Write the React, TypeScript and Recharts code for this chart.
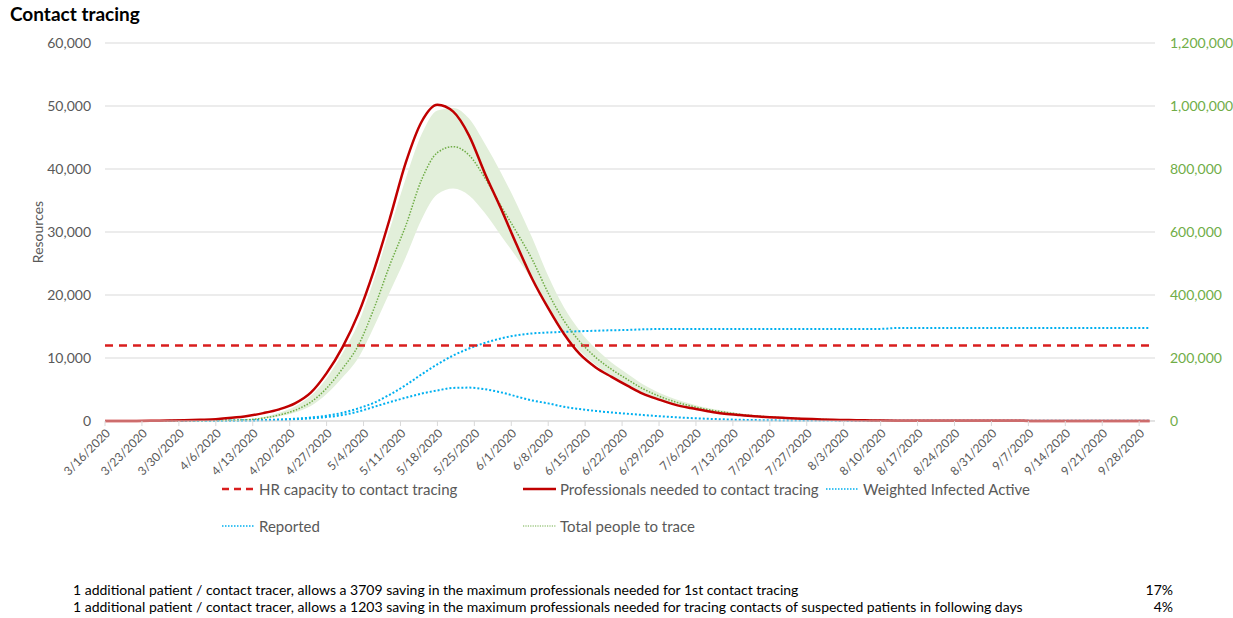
import React from 'react';
import { ComposedChart, Line, Area, XAxis, YAxis, CartesianGrid, ReferenceLine } from 'recharts';

// day offsets from 3/16/2020
const days = [
  0, 3, 6, 9, 12, 15, 18, 21, 24, 27, 30, 33, 36, 39, 42, 45, 48, 51, 54, 57,
  60, 63, 66, 69, 72, 75, 78, 81, 84, 87, 90, 93, 96, 99, 102, 105, 108, 111, 114, 117,
  120, 123, 126, 129, 132, 135, 138, 141, 144, 147, 150, 153, 156, 159, 162, 165, 168, 171, 174, 177,
  180, 183, 186, 189, 192, 195, 198,
];

const tickDays = [0, 7, 14, 21, 28, 35, 42, 49, 56, 63, 70, 77, 84, 91, 98, 105, 112, 119, 126, 133, 140, 147, 154, 161, 168, 175, 182, 189, 196];
const tickLabels = [
  '3/16/2020', '3/23/2020', '3/30/2020', '4/6/2020', '4/13/2020', '4/20/2020', '4/27/2020', '5/4/2020',
  '5/11/2020', '5/18/2020', '5/25/2020', '6/1/2020', '6/8/2020', '6/15/2020', '6/22/2020', '6/29/2020',
  '7/6/2020', '7/13/2020', '7/20/2020', '7/27/2020', '8/3/2020', '8/10/2020', '8/17/2020', '8/24/2020',
  '8/31/2020', '9/7/2020', '9/14/2020', '9/21/2020', '9/28/2020',
];

const HR_CAPACITY = 12000;

const professionals = [
  0, 0, 10, 30, 60, 100, 180, 280, 500, 800, 1250, 1850, 2800, 4500, 7600, 11700, 17000, 24000, 32200, 41000,
  47500, 50200, 49100, 45300, 39300, 33800, 28000, 22500, 17900, 13800, 10600, 8500, 7000, 5600, 4300, 3400, 2600, 2050, 1600, 1200,
  970, 760, 600, 480, 370, 280, 200, 150, 100, 60, 40, 35, 30, 30, 25, 25, 20, 20, 20, 15,
  15, 15, 15, 10, 10, 10, 10,
];

const weightedActive = [
  0, 0, 0, 5, 10, 15, 20, 30, 50, 80, 120, 180, 280, 420, 620, 950, 1500, 2250, 3000, 3700,
  4350, 4850, 5250, 5300, 5050, 4550, 3900, 3250, 2800, 2250, 1900, 1600, 1350, 1150, 950, 760, 600, 470, 360, 270,
  200, 150, 110, 90, 70, 60, 60, 55, 55, 50, 50, 50, 45, 45, 45, 45, 40, 40, 40, 40,
  40, 40, 40, 40, 40, 40, 40,
];

const reported = [
  0, 0, 0, 10, 20, 30, 40, 60, 80, 110, 160, 240, 360, 550, 850, 1300, 2000, 2900, 4200, 5700,
  7400, 9000, 10400, 11500, 12400, 13100, 13600, 13900, 14050, 14150, 14250, 14330, 14400, 14450, 14550, 14600, 14620, 14620, 14620, 14620,
  14620, 14620, 14620, 14620, 14620, 14620, 14620, 14620, 14620, 14620, 14750, 14750, 14750, 14750, 14750, 14750, 14750, 14750, 14750, 14750,
  14750, 14750, 14750, 14750, 14750, 14750, 14750,
];

// right axis
const totalToTrace = [
  0, 0, 0, 100, 300, 600, 1000, 1600, 2400, 4000, 9000, 19000, 34000, 60000, 104000, 166000, 240000, 358000, 496000, 620000,
  766000, 852000, 871000, 844000, 772000, 684000, 600000, 512000, 406000, 318000, 252000, 202000, 164000, 132000, 102000, 79000, 61000, 48000, 37000, 29000,
  22000, 16600, 12800, 9800, 7400, 5600, 4000, 2800, 1800, 1000, 600, 500, 400, 400, 300, 300, 300, 300, 250, 250,
  250, 250, 200, 200, 200, 200, 200,
];

const totalUpper = [
  0, 0, 0, 150, 400, 800, 1300, 2100, 3200, 5600, 12400, 26000, 46000, 80000, 136000, 214000, 310000, 450000, 610000, 770000,
  910000, 986000, 994000, 960000, 880000, 790000, 690000, 580000, 460000, 360000, 286000, 230000, 186000, 150000, 116000, 90000, 70000, 55000, 42000, 33000,
  25000, 19000, 14600, 11200, 8400, 6400, 4600, 3200, 2100, 1200, 700, 600, 500, 450, 400, 400, 350, 350, 300, 300,
  300, 300, 250, 250, 250, 250, 250,
];

const totalLower = [
  0, 0, 0, 80, 250, 500, 800, 1300, 1900, 3000, 7000, 15000, 27000, 48000, 86000, 138000, 200000, 300000, 410000, 520000,
  640000, 720000, 738000, 716000, 660000, 590000, 520000, 446000, 360000, 280000, 222000, 178000, 144000, 116000, 90000, 70000, 54000, 42000, 33000, 26000,
  19600, 14800, 11400, 8800, 6600, 5000, 3600, 2500, 1600, 900, 500, 400, 350, 300, 250, 250, 200, 200, 200, 200,
  150, 150, 150, 150, 150, 150, 150,
];

const data = days.map((day, i) => ({
  day,
  professionals: professionals[i],
  weighted: weightedActive[i],
  reported: reported[i],
  total: totalToTrace[i],
  band: [totalLower[i], totalUpper[i]],
}));

const FONT = 'Lato, "Open Sans", sans-serif';
const GREY = '#595959';
const RED = '#C00000';
const HR_RED = '#D91E1E';
const BLUE = '#00B0F0';
const GREEN = '#70AD47';

const fmt = (v: number) => v.toLocaleString('en-US');

const DateTick = (props: any) => {
  const { x, y, payload } = props;
  const idx = tickDays.indexOf(payload.value);
  const tx = x + 6;
  const ty = y + 6;
  return (
    <text x={tx} y={ty} transform={`rotate(-45 ${tx} ${ty})`} textAnchor="end" fontSize={12} fill={GREY} fontFamily={FONT}>
      {tickLabels[idx]}
    </text>
  );
};

const legendItems = [
  { name: 'HR capacity to contact tracing', color: HR_RED, dash: '7 5', width: 2.5, left: 222, top: 489 },
  { name: 'Professionals needed to contact tracing', color: RED, dash: undefined, width: 2.5, left: 523, top: 489 },
  { name: 'Weighted Infected Active', color: BLUE, dash: '1.5 1.5', width: 1.5, left: 826, top: 489 },
  { name: 'Reported', color: BLUE, dash: '1.5 1.5', width: 1.5, left: 222, top: 526 },
  { name: 'Total people to trace', color: GREEN, dash: '1.2 1.2', width: 1.2, left: 523, top: 526 },
];

export default function App() {
  return (
    <div style={{ position: 'absolute', left: 0, top: 0, width: 1233, height: 618, background: '#fff', fontFamily: FONT }}>
      <div style={{ position: 'absolute', left: 10, top: 2, fontSize: 19, fontWeight: 700, color: '#000' }}>Contact tracing</div>

      <div style={{ position: 'absolute', left: 0, top: 0 }}>
        <ComposedChart width={1233} height={500} data={data} margin={{ top: 43, right: 0, bottom: 0, left: 0 }}>
          <CartesianGrid yAxisId="left" vertical={false} stroke="#D9D9D9" strokeWidth={1} />
          <XAxis
            dataKey="day"
            type="number"
            domain={[0, 199]}
            ticks={tickDays}
            interval={0}
            height={79}
            tick={<DateTick />}
            tickSize={5}
            tickLine={{ stroke: '#D9D9D9' }}
            axisLine={{ stroke: '#D9D9D9' }}
          />
          <YAxis
            yAxisId="left"
            orientation="left"
            width={105}
            domain={[0, 60000]}
            ticks={[0, 10000, 20000, 30000, 40000, 50000, 60000]}
            tickFormatter={fmt}
            axisLine={false}
            tickLine={false}
            tickMargin={8}
            tick={{ fill: GREY, fontSize: 14, fontFamily: FONT }}
          />
          <YAxis
            yAxisId="right"
            orientation="right"
            width={78}
            domain={[0, 1200000]}
            ticks={[0, 200000, 400000, 600000, 800000, 1000000, 1200000]}
            tickFormatter={fmt}
            axisLine={false}
            tickLine={false}
            tickMargin={9}
            tick={{ fill: GREEN, fontSize: 14, fontFamily: FONT, textAnchor: 'start' }}
          />
          <Area
            yAxisId="right"
            dataKey="band"
            type="monotone"
            stroke="none"
            fill="#E2EFDA"
            fillOpacity={1}
            isAnimationActive={false}
            dot={false}
            activeDot={false}
          />
          <Line
            yAxisId="left"
            dataKey="reported"
            type="monotone"
            stroke={BLUE}
            strokeWidth={2}
            strokeDasharray="2 2"
            dot={false}
            activeDot={false}
            isAnimationActive={false}
          />
          <Line
            yAxisId="left"
            dataKey="weighted"
            type="monotone"
            stroke={BLUE}
            strokeWidth={2}
            strokeDasharray="2 2"
            dot={false}
            activeDot={false}
            isAnimationActive={false}
          />
          <ReferenceLine yAxisId="left" y={HR_CAPACITY} stroke={HR_RED} strokeWidth={2.5} strokeDasharray="8 6" />
          <Line
            yAxisId="right"
            dataKey="total"
            type="monotone"
            stroke={GREEN}
            strokeWidth={1.5}
            strokeDasharray="1.5 1.5"
            dot={false}
            activeDot={false}
            isAnimationActive={false}
          />
          <Line
            yAxisId="left"
            dataKey="professionals"
            type="monotone"
            stroke={RED}
            strokeWidth={2.5}
            dot={false}
            activeDot={false}
            isAnimationActive={false}
          />
        </ComposedChart>
      </div>

      <div
        style={{
          position: 'absolute',
          left: 37,
          top: 232,
          transform: 'translate(-50%, -50%) rotate(-90deg)',
          fontSize: 14,
          color: GREY,
          whiteSpace: 'nowrap',
        }}
      >
        Resources
      </div>

      {legendItems.map((item) => (
        <div
          key={item.name}
          style={{ position: 'absolute', left: item.left, top: item.top - 10, height: 20, display: 'flex', alignItems: 'center', whiteSpace: 'nowrap' }}
        >
          <svg width={33} height={10} style={{ marginRight: 4 }}>
            <line x1={0} y1={5} x2={33} y2={5} stroke={item.color} strokeWidth={item.width} strokeDasharray={item.dash} />
          </svg>
          <span style={{ fontSize: 15, color: GREY }}>{item.name}</span>
        </div>
      ))}

      <div style={{ position: 'absolute', left: 73, top: 581, fontSize: 14, color: '#000', whiteSpace: 'nowrap' }}>
        1 additional patient / contact tracer, allows a 3709 saving in the maximum professionals needed for 1st contact tracing
      </div>
      <div style={{ position: 'absolute', right: 1233 - 1173, top: 581, fontSize: 14, color: '#000' }}>17%</div>
      <div style={{ position: 'absolute', left: 73, top: 598, fontSize: 14, color: '#000', whiteSpace: 'nowrap' }}>
        1 additional patient / contact tracer, allows a 1203 saving in the maximum professionals needed for tracing contacts of suspected patients in following days
      </div>
      <div style={{ position: 'absolute', right: 1233 - 1173, top: 598, fontSize: 14, color: '#000' }}>4%</div>
    </div>
  );
}
